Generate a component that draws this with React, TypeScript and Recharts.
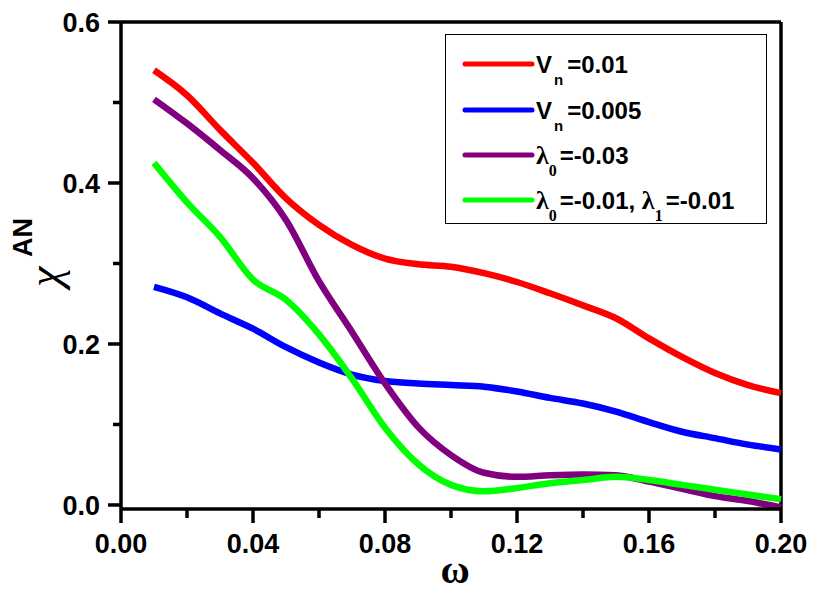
import React from "react";
import {
  LineChart,
  Line,
  XAxis,
  YAxis,
  Legend,
  ReferenceLine,
  Label,
} from "recharts";

const omega = [0.01, 0.02, 0.03, 0.04, 0.05, 0.06, 0.07, 0.08, 0.09, 0.1, 0.11, 0.12, 0.13, 0.14, 0.15, 0.16, 0.17, 0.18, 0.19, 0.2];
const vn001 = [0.540, 0.509, 0.466, 0.425, 0.381, 0.348, 0.323, 0.306, 0.299, 0.296, 0.288, 0.277, 0.263, 0.248, 0.232, 0.207, 0.184, 0.164, 0.149, 0.139];
const vn0005 = [0.271, 0.258, 0.238, 0.219, 0.196, 0.177, 0.162, 0.154, 0.151, 0.149, 0.147, 0.141, 0.133, 0.126, 0.116, 0.103, 0.091, 0.083, 0.075, 0.069];
const lam003 = [0.504, 0.474, 0.441, 0.406, 0.354, 0.278, 0.215, 0.151, 0.097, 0.062, 0.040, 0.035, 0.037, 0.038, 0.037, 0.029, 0.020, 0.011, 0.005, -0.003];
const lam001 = [0.425, 0.376, 0.333, 0.280, 0.255, 0.212, 0.157, 0.096, 0.051, 0.025, 0.017, 0.021, 0.027, 0.031, 0.035, 0.031, 0.025, 0.019, 0.013, 0.007];

const xTicks = [0, 0.02, 0.04, 0.06, 0.08, 0.1, 0.12, 0.14, 0.16, 0.18, 0.2];
const yTicks = [0, 0.1, 0.2, 0.3, 0.4, 0.5, 0.6];

const seriesColors = ["#ff0000", "#0000ff", "#800080", "#00ff00"];

const data = omega.map((w, i) => ({
  w,
  a: vn001[i],
  b: vn0005[i],
  c: lam003[i],
  d: lam001[i],
}));

const SANS = "'Liberation Sans', Arial, sans-serif";
const SERIF = "'Liberation Serif', 'Times New Roman', serif";

const XTick = (props: any) => {
  const { x, y, payload, index } = props;
  const major = index % 2 === 0;
  return (
    <g>
      <line x1={x} x2={x} y1={y} y2={y + (major ? 14 : 9)} stroke="#000" strokeWidth={3.5} />
      {major && (
        <text x={x} y={y + 44} textAnchor="middle" fontFamily={SANS} fontWeight="bold" fontSize={27} fill="#000">
          {Number(payload.value).toFixed(2)}
        </text>
      )}
    </g>
  );
};

const YTick = (props: any) => {
  const { x, y, payload, index } = props;
  const major = index % 2 === 0;
  return (
    <g>
      <line x1={x - (major ? 13 : 8)} x2={x} y1={y} y2={y} stroke="#000" strokeWidth={3.5} />
      {major && (
        <text x={x - 21} y={y + 10} textAnchor="end" fontFamily={SANS} fontWeight="bold" fontSize={27} fill="#000">
          {Number(payload.value).toFixed(1)}
        </text>
      )}
    </g>
  );
};

const LegendBox = () => {
  const rowY = [30, 76, 121, 166];
  return (
    <svg width={322} height={190} style={{ display: "block" }}>
      <rect x={0.5} y={0.5} width={321} height={189} fill="#fff" stroke="#000" strokeWidth={1} />
      {rowY.map((ry, i) => (
        <line key={i} x1={20} x2={87} y1={ry} y2={ry} stroke={seriesColors[i]} strokeWidth={5} strokeLinecap="round" />
      ))}
      <text x={91} y={rowY[0] + 9} fontFamily={SANS} fontWeight="bold" fontSize={24} fill="#000">
        V<tspan fontSize={15} dx={2} dy={12}>n</tspan>
        <tspan dx={4} dy={-12}>=0.01</tspan>
      </text>
      <text x={91} y={rowY[1] + 9} fontFamily={SANS} fontWeight="bold" fontSize={24} fill="#000">
        V<tspan fontSize={15} dx={2} dy={12}>n</tspan>
        <tspan dx={4} dy={-12}>=0.005</tspan>
      </text>
      <text x={91} y={rowY[2] + 9} fontFamily={SANS} fontWeight="bold" fontSize={24} fill="#000">
        <tspan fontFamily={SERIF} fontSize={26}>λ</tspan>
        <tspan fontFamily={SERIF} fontSize={16} dy={12}>0</tspan>
        <tspan dx={3} dy={-12}>=-0.03</tspan>
      </text>
      <text x={91} y={rowY[3] + 9} fontFamily={SANS} fontWeight="bold" fontSize={24} fill="#000">
        <tspan fontFamily={SERIF} fontSize={26}>λ</tspan>
        <tspan fontFamily={SERIF} fontSize={16} dy={12}>0</tspan>
        <tspan dx={3} dy={-12}>=-0.01, </tspan>
        <tspan fontFamily={SERIF} fontSize={26}>λ</tspan>
        <tspan fontFamily={SERIF} fontSize={16} dy={12}>1</tspan>
        <tspan dx={3} dy={-12}>=-0.01</tspan>
      </text>
    </svg>
  );
};

export default function App() {
  return (
    <div style={{ position: "absolute", left: 0, top: 0, width: 817, height: 593, background: "#fff" }}>
      <LineChart width={817} height={593} data={data} margin={{ top: 22, right: 36, left: 0, bottom: 0 }}>
        <XAxis
          dataKey="w"
          type="number"
          domain={[0, 0.2]}
          ticks={xTicks}
          interval={0}
          height={84}
          tickSize={0}
          tickMargin={0}
          tickLine={false}
          tick={<XTick />}
          axisLine={{ stroke: "#000", strokeWidth: 3.5 }}
        >
          <Label
            content={() => (
              <text x={455} y={583} textAnchor="middle" fontFamily={SERIF} fontWeight="bold" fontSize={40} fill="#000">
                ω
              </text>
            )}
          />
        </XAxis>
        <YAxis
          type="number"
          domain={[-0.005, 0.6]}
          ticks={yTicks}
          interval={0}
          width={121}
          tickSize={0}
          tickMargin={0}
          tickLine={false}
          tick={<YTick />}
          axisLine={{ stroke: "#000", strokeWidth: 3.5 }}
          allowDataOverflow
        >
          <Label
            content={() => (
              <text transform="translate(60,287) rotate(-90)" fontFamily={SERIF} fontStyle="italic" fontSize={46} fill="#000">
                χ
                <tspan x={30} dy={-28} fontFamily={SANS} fontStyle="normal" fontWeight="bold" fontSize={27}>AN</tspan>
              </text>
            )}
          />
        </YAxis>
        <ReferenceLine y={0.6} stroke="#000" strokeWidth={3.5} />
        <ReferenceLine x={0.2} stroke="#000" strokeWidth={3.5} />
        <Line type="monotone" dataKey="a" stroke={seriesColors[0]} strokeWidth={6.5} dot={false} isAnimationActive={false} />
        <Line type="monotone" dataKey="b" stroke={seriesColors[1]} strokeWidth={6.5} dot={false} isAnimationActive={false} />
        <Line type="monotone" dataKey="c" stroke={seriesColors[2]} strokeWidth={6.5} dot={false} isAnimationActive={false} />
        <Line type="monotone" dataKey="d" stroke={seriesColors[3]} strokeWidth={6.5} dot={false} isAnimationActive={false} />
        <Legend
          layout="vertical"
          align="center"
          verticalAlign="middle"
          wrapperStyle={{ position: "absolute", left: 445, top: 34, width: 322, height: 190 }}
          content={() => <LegendBox />}
        />
      </LineChart>
    </div>
  );
}
